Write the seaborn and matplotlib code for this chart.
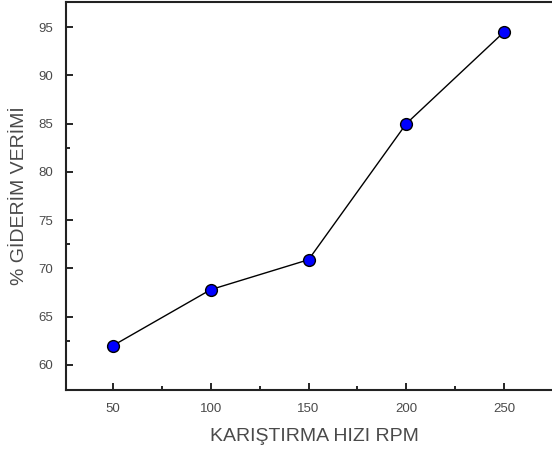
import matplotlib
matplotlib.use("Agg")
import matplotlib.pyplot as plt
import seaborn as sns
import pandas as pd
from matplotlib.ticker import FixedLocator

sns.set_style("ticks")
plt.rcParams["font.family"] = ["Liberation Sans", "DejaVu Sans"]

# karıştırma hızı (rpm) ve giderim verimi (%)
speed = [50, 100, 150, 200, 250]
removal = [62.0, 67.8, 70.9, 85.0, 94.5]

df = pd.DataFrame({"speed": speed, "removal": removal})
text_col = "#4a4a4a"

fig = plt.figure(figsize=(5.52, 4.5), dpi=100)
ax = fig.add_axes([0.1196, 0.1333, 0.90, 0.8623])

sns.lineplot(data=df, x="speed", y="removal", ax=ax, color="black", linewidth=1.0,
             marker="o", markersize=8.5, markerfacecolor="#0000ff",
             markeredgecolor="black", markeredgewidth=1.0)

ax.set_xlim(26, 280)
ax.set_ylim(57.4, 97.6)
ax.set_xticks([50, 100, 150, 200, 250])
ax.set_yticks([60, 65, 70, 75, 80, 85, 90, 95])
ax.xaxis.set_minor_locator(FixedLocator([75, 125, 175, 225]))
ax.yaxis.set_minor_locator(FixedLocator([62.5, 72.5, 82.5]))

ax.tick_params(which="both", direction="in", colors="black", labelcolor=text_col, labelsize=9.5)
ax.tick_params(which="major", length=5, width=1.2, pad=9)
ax.tick_params(which="minor", length=3, width=1.2)
for s in ax.spines.values():
    s.set_linewidth(1.5)
    s.set_color("#222222")

ax.set_xlabel("KARIŞTIRMA HIZI RPM", fontsize=14, color=text_col, labelpad=10)
ax.set_ylabel("% GİDERİM VERİMİ", fontsize=14, color=text_col, labelpad=8)

fig.savefig("out.png", dpi=100)
